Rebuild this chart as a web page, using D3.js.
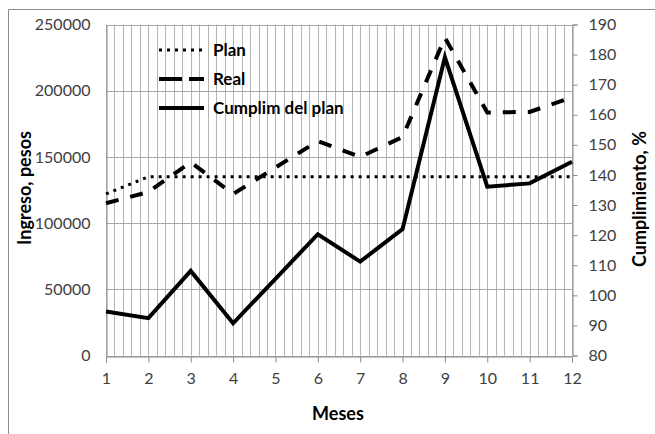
<!DOCTYPE html>
<html><head><meta charset="utf-8">
<script src="https://cdn.jsdelivr.net/npm/d3@7"></script>
<style>
html,body{margin:0;padding:0;background:#fff;}
svg{display:block;font-family:Lato,"Open Sans",sans-serif;}
</style></head>
<body>
<svg id="chart" width="655" height="434"></svg>
<script>
const months = [1,2,3,4,5,6,7,8,9,10,11,12];
const plan = [122000,135000,135000,135000,135000,135000,135000,135000,135000,135000,135000,135000];
const real = [115000,123500,146000,122000,142000,162000,150000,165000,240000,183500,184000,195000];
const cumplim = [94.6,92.4,108.1,90.7,105.5,120.3,111.2,122,179.1,136.1,137.2,144.4];
const leftTicks = [0,50000,100000,150000,200000,250000];
const rightTicks = [80,90,100,110,120,130,140,150,160,170,180,190];
const legendLabels = ["Plan","Real","Cumplim del plan"];

const svg = d3.select("#chart");
const L = 106, R = 572, T = 24.5, B = 355.5;
const x = d3.scaleLinear().domain([1,12]).range([L,R]);
const yL = d3.scaleLinear().domain([0,250000]).range([B,T]);
const yR = d3.scaleLinear().domain([80,190]).range([B,T]);

// outer border
svg.append("path").attr("d","M8.5,434 L8.5,9.5 L655,9.5")
  .attr("fill","none").attr("stroke","#8c8c8c").attr("stroke-width",1);

// minor vertical gridlines
const minor = d3.range(1, 12.0001, 0.2);
svg.append("g").selectAll("line").data(minor).join("line")
  .attr("x1",d=>Math.round(x(d))+0.5).attr("x2",d=>Math.round(x(d))+0.5)
  .attr("y1",T).attr("y2",B)
  .attr("stroke","#b4b4b4").attr("stroke-width",1);

// horizontal gridlines
svg.append("g").selectAll("line").data(leftTicks).join("line")
  .attr("x1",L).attr("x2",R)
  .attr("y1",d=>Math.round(yL(d))+0.5).attr("y2",d=>Math.round(yL(d))+0.5)
  .attr("stroke","#a6a6a6").attr("stroke-width",1);

// axes
const axColor = "#8c8c8c";
const xAxis = svg.append("g").attr("transform",`translate(0,${Math.round(B)+0.5})`)
  .call(d3.axisBottom(x).tickValues(months).tickSize(6).tickPadding(10).tickFormat(d3.format("d")));
const yAxisL = svg.append("g").attr("transform",`translate(${L+0.5},0)`)
  .call(d3.axisLeft(yL).tickValues(leftTicks).tickSize(0).tickPadding(16).tickFormat(d3.format("d")));
const yAxisR = svg.append("g").attr("transform",`translate(${R+0.5},0)`)
  .call(d3.axisRight(yR).tickValues(rightTicks).tickSize(5).tickPadding(11).tickFormat(d3.format("d")));
[xAxis,yAxisL,yAxisR].forEach(g=>{
  g.select(".domain").attr("stroke",axColor);
  g.selectAll(".tick line").attr("stroke",axColor);
  g.selectAll(".tick text").attr("fill","#404040").style("font-size","16px").style("font-family","Lato");
});

// series
const lineL = d3.line().x((d,i)=>x(months[i])).y(d=>yL(d));
const lineR = d3.line().x((d,i)=>x(months[i])).y(d=>yR(d));
svg.append("path").datum(plan).attr("d",lineL).attr("fill","none")
  .attr("stroke","#000").attr("stroke-width",3).attr("stroke-dasharray","3,5");
svg.append("path").datum(real).attr("d",lineL).attr("fill","none")
  .attr("stroke","#000").attr("stroke-width",4).attr("stroke-dasharray","13,12");
svg.append("path").datum(cumplim).attr("d",lineR).attr("fill","none")
  .attr("stroke","#000").attr("stroke-width",4).attr("stroke-linejoin","miter");

// legend
const legY = [50,79,108];
const legDash = ["3,5","23,7",null];
const legW = [3,4,4];
const leg = svg.append("g");
legendLabels.forEach((lab,i)=>{
  leg.append("line").attr("x1",159).attr("x2",204).attr("y1",legY[i]).attr("y2",legY[i])
    .attr("stroke","#000").attr("stroke-width",legW[i])
    .attr("stroke-dasharray",legDash[i]);
  leg.append("text").attr("x",213).attr("y",legY[i]).attr("dy","0.35em")
    .style("font-size","17px").style("font-weight","bold").attr("fill","#000").text(lab);
});

// axis titles
svg.append("text").attr("x",338).attr("y",420).attr("text-anchor","middle")
  .style("font-size","18px").style("font-weight","bold").text("Meses");
svg.append("text").attr("transform","translate(25,188) rotate(-90)").attr("text-anchor","middle")
  .attr("dy","0.35em").style("font-size","18px").style("font-weight","bold").text("Ingreso, pesos");
svg.append("text").attr("transform","translate(640,199) rotate(-90)").attr("text-anchor","middle")
  .attr("dy","0.35em").style("font-size","18px").style("font-weight","bold").text("Cumplimiento, %");
</script>
</body></html>
